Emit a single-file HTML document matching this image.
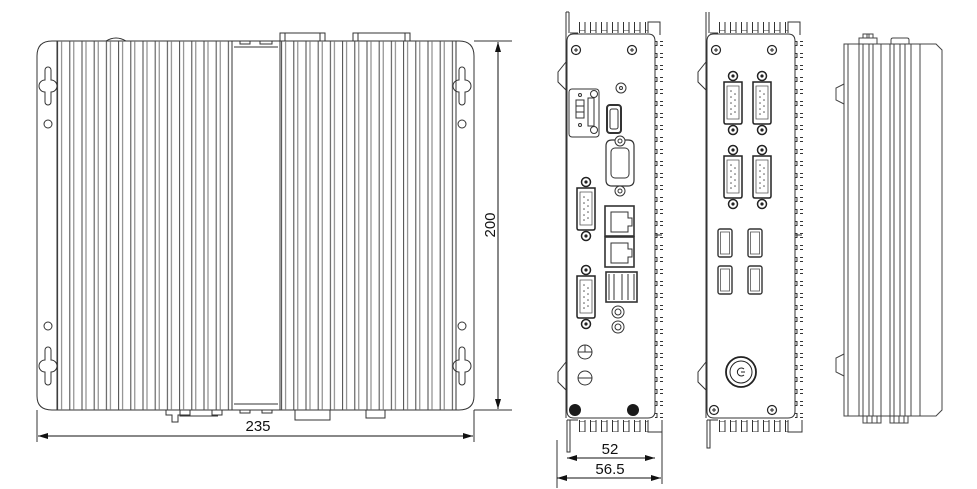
<!DOCTYPE html>
<html><head><meta charset="utf-8"><style>
html,body{margin:0;padding:0;background:#fff}
svg{display:block}
text{font-family:"Liberation Sans",Arial,sans-serif;fill:#111}
</style></head><body>
<svg width="977" height="489" viewBox="0 0 977 489" xmlns="http://www.w3.org/2000/svg">
<defs>
<pattern id="fins" x="57" y="0" width="12.2" height="10" patternUnits="userSpaceOnUse">
<line x1="0.6" y1="0" x2="0.6" y2="10" stroke="#444" stroke-width="1"/>
<line x1="4.6" y1="0" x2="4.6" y2="10" stroke="#777" stroke-width="1"/>
</pattern>
<pattern id="finsR" x="281" y="0" width="12.2" height="10" patternUnits="userSpaceOnUse">
<line x1="0.6" y1="0" x2="0.6" y2="10" stroke="#444" stroke-width="1"/>
<line x1="4.6" y1="0" x2="4.6" y2="10" stroke="#777" stroke-width="1"/>
</pattern>
<pattern id="teethV" x="0" y="40" width="10" height="12" patternUnits="userSpaceOnUse">
<path d="M0 1.5 H7 V5.5 H0" fill="none" stroke="#333" stroke-width="1"/>
</pattern>
<pattern id="teethH" x="578" y="0" width="11" height="10" patternUnits="userSpaceOnUse">
<path d="M1.5 10 V0 H7 V10" fill="none" stroke="#333" stroke-width="1"/>
</pattern>
<pattern id="teethH2" x="718" y="0" width="11" height="10" patternUnits="userSpaceOnUse">
<path d="M1.5 10 V0 H7 V10" fill="none" stroke="#333" stroke-width="1"/>
</pattern>
<marker id="ar" viewBox="0 0 10 6" refX="10" refY="3" markerWidth="10" markerHeight="6" orient="auto-start-reverse"><path d="M0 0 L10 3 L0 6z" fill="#111"/></marker>
<g id="key"><path d="M-3 0 a3 3 0 0 1 6 0 v10 a4 4 0 0 1 0 12 v10 a3 3 0 0 1 -6 0 v-10 a4 4 0 0 1 0 -12z" fill="none" stroke="#333"/></g>
<g id="screw"><circle r="4.5" fill="none" stroke="#222" stroke-width="1.2"/><path d="M-2 0H2M0 -2V2" stroke="#222"/></g>
<g id="db9"><circle cx="0" cy="-26" r="4.5" fill="#fff" stroke="#222" stroke-width="1.5"/><circle cx="0" cy="-26" r="1.6" fill="#222"/>
<path d="M-9 -20 H9 V20 Q9 22 7 22 H-7 Q-9 22 -9 20Z" fill="none" stroke="#222" stroke-width="1.5"/>
<path d="M-6 -16 H6 V17 H-6Z" fill="none" stroke="#555" stroke-width="0.8"/>
<g fill="#555"><circle cx="-2" cy="-11" r=".8"/><circle cx="-2" cy="-5" r=".8"/><circle cx="-2" cy="1" r=".8"/><circle cx="-2" cy="7" r=".8"/><circle cx="-2" cy="12" r=".8"/><circle cx="2" cy="-8" r=".8"/><circle cx="2" cy="-2" r=".8"/><circle cx="2" cy="4" r=".8"/><circle cx="2" cy="10" r=".8"/></g>
<circle cx="0" cy="28" r="4.5" fill="#fff" stroke="#222" stroke-width="1.5"/><circle cx="0" cy="28" r="1.6" fill="#222"/></g>
<g id="usb"><rect x="-7" y="-14" width="14" height="28" rx="2" fill="none" stroke="#333" stroke-width="1.4"/><rect x="-4.5" y="-11" width="9" height="22" fill="none" stroke="#555" stroke-width="0.8"/></g>
<g id="side" fill="none" stroke="#444"><rect x="0" y="0" width="7" height="10"/></g>
</defs>

<!-- ===== Main top view ===== -->
<g fill="none" stroke="#333" stroke-width="1">
<path d="M52 41 H459 Q474 41 474 56 V396 Q474 410 459 410 H52 Q37 410 37 396 V56 Q37 41 52 41Z"/>
<rect x="57" y="41" width="175" height="369" fill="url(#fins)" stroke="none"/>
<rect x="281" y="41" width="175" height="369" fill="url(#finsR)" stroke="none"/>
<line x1="57" y1="41" x2="57" y2="410"/><line x1="456" y1="41" x2="456" y2="410"/>
<rect x="232" y="41" width="48" height="369"/>
<line x1="234" y1="47" x2="278" y2="47"/><line x1="234" y1="404" x2="278" y2="404"/>
<line x1="474" y1="41" x2="512" y2="41"/><line x1="474" y1="410" x2="512" y2="410"/>
<!-- top connectors -->
<path d="M106 41 Q116 35 126 41"/>
<path d="M280 41 V33 H325 V41 M285 33 V41 M320 33 V41"/>
<path d="M353 41 V33 H410 V41 M358 33 V41 M405 33 V41"/>
<path d="M240 41 V44 H250 V41 M260 41 V44 H272 V41"/>
<!-- bottom connectors -->
<path d="M166 410 V415 H172 V422 H178 V415 H190 V410"/>
<path d="M180 410 V416 H218"/><path d="M212 410 V415 H222 V410"/>
<path d="M295 410 V420 H330 V410"/>
<path d="M366 410 V418 H385 V410"/>
<path d="M240 410 V413 H250 V410 M262 410 V413 H272 V410"/>
<!-- holes -->
<use href="#key" x="48" y="70"/><circle cx="48" cy="124" r="4"/>
<use href="#key" x="48" y="350"/><circle cx="48" cy="326" r="4"/>
<use href="#key" x="462" y="70"/><circle cx="462" cy="124" r="4"/>
<use href="#key" x="462" y="350"/><circle cx="462" cy="326" r="4"/>
<!-- dims -->
<line x1="37" y1="410" x2="37" y2="442"/><line x1="474" y1="410" x2="474" y2="442"/>
</g>
<line x1="498" y1="42" x2="498" y2="409" stroke="#111" marker-start="url(#ar)" marker-end="url(#ar)"/>
<line x1="38" y1="436" x2="473" y2="436" stroke="#111" marker-start="url(#ar)" marker-end="url(#ar)"/>
<text x="258" y="431" font-size="15" text-anchor="middle">235</text>
<text transform="translate(495,225) rotate(-90)" font-size="15" text-anchor="middle">200</text>

<!-- ===== Front view 1 ===== -->
<g fill="none" stroke="#333" stroke-width="1">
<line x1="566" y1="12" x2="566" y2="40"/><line x1="569" y1="12" x2="569" y2="33"/>
<line x1="566" y1="12" x2="569" y2="12"/>
<path d="M566 40 V418"/>
<path d="M570 33 H578"/><rect x="578" y="22" width="70" height="11" fill="url(#teethH)" stroke="none"/>
<path d="M648 33 V22 H660 V35"/>
<path d="M574 34 H648 Q655 34 655 41 V411 Q655 418 648 418 H574 Q567 418 567 411 V41 Q567 34 574 34Z"/>
<rect x="655" y="36" width="8" height="382" fill="url(#teethV)" stroke="none" transform="translate(0,0)"/>
<path d="M566 62 L558 72 V82 L566 90"/><path d="M566 362 L558 372 V382 L566 390"/>
<path d="M567 420 H578"/><rect x="578" y="420" width="70" height="12" fill="url(#teethH)" stroke="none" transform="translate(0,852) scale(1,-1)"/>
<path d="M567 420 V452 H570 V420"/>
<path d="M648 420 V432 H662 V420"/>
<path d="M655 200 V270 M655 235 H662"/>
</g>
<use href="#screw" x="576" y="50"/><use href="#screw" x="632" y="50"/>
<circle cx="575" cy="410" r="6" fill="#1a1a1a"/><circle cx="633" cy="410" r="6" fill="#1a1a1a"/>
<g fill="none" stroke="#333">
<rect x="569" y="89" width="30" height="48" rx="3"/>
<rect x="576" y="100" width="8" height="6"/><rect x="576" y="106" width="8" height="6"/><rect x="576" y="112" width="8" height="6"/>
<rect x="588" y="98" width="6" height="28"/>
<circle cx="580" cy="95" r="1.5"/><circle cx="580" cy="125" r="1.5"/>
<circle cx="594" cy="94" r="3.5"/><circle cx="594" cy="130" r="3.5"/>
<circle cx="621" cy="88" r="5"/><circle cx="621" cy="88" r="1.5"/>
<rect x="607" y="105" width="14" height="28" rx="3" stroke-width="2"/><rect x="610" y="109" width="8" height="20" rx="2"/>
<path d="M612 140 H628 Q634 140 634 146 V180 Q634 186 628 186 H612 Q606 186 606 180 V146 Q606 140 612 140Z" stroke-width="1.2"/>
<circle cx="620" cy="141" r="5" fill="#fff"/><circle cx="620" cy="141" r="2"/>
<circle cx="620" cy="191" r="5" fill="#fff"/><circle cx="620" cy="191" r="2"/>
<rect x="611" y="148" width="18" height="30" rx="4"/>
<rect x="605" y="206" width="29" height="30" stroke-width="1.6"/>
<path d="M611 212 H628 V218 H632 V226 H628 V232 H611Z"/>
<rect x="605" y="237" width="29" height="30" stroke-width="1.6"/>
<path d="M611 243 H628 V249 H632 V257 H628 V263 H611Z"/>
<rect x="606" y="272" width="31" height="30" stroke-width="1.6"/>
<path d="M609 274 V300 M614 274 V300 M622 274 V300 M628 274 V300 M634 274 V300"/>
<circle cx="618" cy="312" r="6"/><circle cx="618" cy="312" r="3"/>
<circle cx="618" cy="327" r="6"/><circle cx="618" cy="327" r="3"/>
<circle cx="585" cy="352" r="7"/><path d="M578 352 H592 M585 352 V345"/>
<circle cx="585" cy="378" r="7"/><path d="M578 378 H592"/>
</g>
<use href="#db9" x="586" y="208"/>
<use href="#db9" x="586" y="296"/>
<line x1="557" y1="440" x2="557" y2="488" stroke="#333"/>
<line x1="662" y1="432" x2="662" y2="484" stroke="#333"/>
<line x1="567" y1="458" x2="655" y2="458" stroke="#111" marker-start="url(#ar)" marker-end="url(#ar)"/>
<line x1="557" y1="478" x2="661" y2="478" stroke="#111" marker-start="url(#ar)" marker-end="url(#ar)"/>
<text x="610" y="454" font-size="15" text-anchor="middle">52</text>
<text x="610" y="474" font-size="15" text-anchor="middle">56.5</text>

<!-- ===== Front view 2 ===== -->
<g fill="none" stroke="#333" stroke-width="1">
<line x1="706" y1="12" x2="706" y2="40"/><line x1="709" y1="12" x2="709" y2="33"/>
<path d="M706 40 V418"/>
<path d="M710 33 H718"/><rect x="718" y="22" width="70" height="11" fill="url(#teethH2)" stroke="none"/>
<path d="M788 33 V22 H800 V35"/>
<path d="M714 34 H788 Q795 34 795 41 V411 Q795 418 788 418 H714 Q707 418 707 411 V41 Q707 34 714 34Z"/>
<rect x="795" y="36" width="8" height="382" fill="url(#teethV)" stroke="none"/>
<path d="M706 62 L698 72 V82 L706 90"/><path d="M706 362 L698 372 V382 L706 390"/>
<path d="M707 420 H718"/><rect x="718" y="420" width="70" height="12" fill="url(#teethH2)" stroke="none" transform="translate(0,852) scale(1,-1)"/>
<path d="M707 420 V448 H710 V420"/>
<path d="M788 420 V432 H802 V420"/>
<path d="M795 200 V270 M795 235 H802"/>
</g>
<use href="#screw" x="716" y="50"/><use href="#screw" x="772" y="50"/>
<use href="#screw" x="714" y="410"/><use href="#screw" x="772" y="410"/>
<use href="#db9" x="733" y="102"/><use href="#db9" x="762" y="102"/>
<use href="#db9" x="733" y="176"/><use href="#db9" x="762" y="176"/>
<use href="#usb" x="725" y="243"/><use href="#usb" x="755" y="243"/>
<use href="#usb" x="725" y="280"/><use href="#usb" x="755" y="280"/>
<g fill="none" stroke="#222">
<circle cx="741" cy="372" r="15" stroke-width="1.8"/><circle cx="741" cy="372" r="11"/>
<path d="M744 369 A4 4 0 1 0 744 375 M741 372 H745"/>
</g>

<!-- ===== Side view ===== -->
<g fill="none" stroke="#444" stroke-width="1">
<path d="M844 44 H936 L942 50 V410 L936 416 H844Z"/>
<path d="M848 44 V416 M859 44 V416 M863 44 V416 M869 44 V416 M873 44 V416 M881 44 V416 M890 44 V416 M894 44 V416 M900 44 V416 M905 44 V416 M911 44 V416 M920 44 V416"/>
<path d="M844 84 L836 88 V100 L844 104"/><path d="M844 354 L836 358 V372 L844 376"/>
<path d="M859 44 V38 H877 V44 M863 38 V34 H873 V38 M867 34 V38 M869 34 V38"/>
<path d="M891 44 V40 Q891 38 893 38 H907 Q909 38 909 40 V44"/>
<path d="M863 416 V423 H881 V416 M867 416 V423 M872 416 V423 M877 416 V423"/>
<path d="M890 416 V423 H908 V416 M894 416 V423 M899 416 V423 M904 416 V423"/>
</g>
</svg>
</body></html>
